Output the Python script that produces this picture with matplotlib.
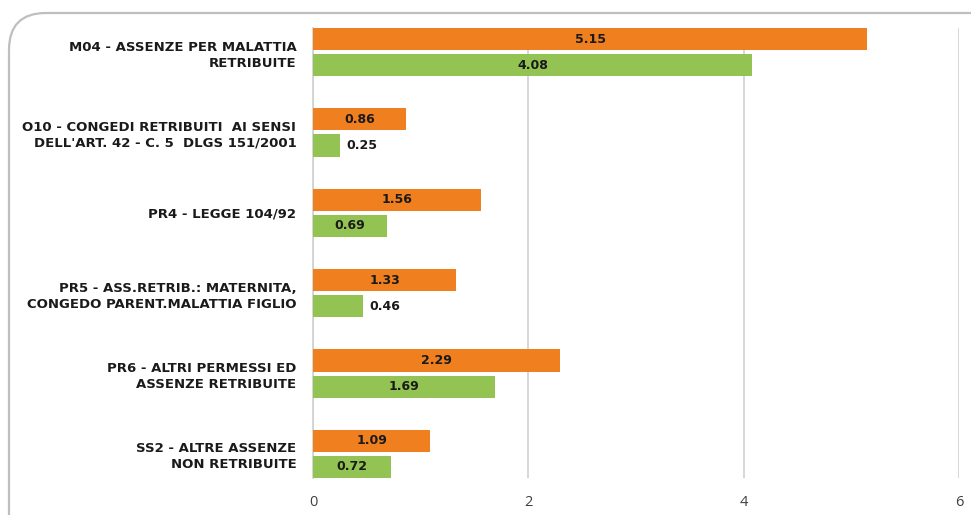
import matplotlib.pyplot as plt
import numpy as np
from matplotlib.patches import FancyBboxPatch

categories = [
    "M04 - ASSENZE PER MALATTIA\nRETRIBUITE",
    "O10 - CONGEDI RETRIBUITI  AI SENSI\nDELL'ART. 42 - C. 5  DLGS 151/2001",
    "PR4 - LEGGE 104/92",
    "PR5 - ASS.RETRIB.: MATERNITA,\nCONGEDO PARENT.MALATTIA FIGLIO",
    "PR6 - ALTRI PERMESSI ED\nASSENZE RETRIBUITE",
    "SS2 - ALTRE ASSENZE\nNON RETRIBUITE",
]
orange_vals = [5.15, 0.86, 1.56, 1.33, 2.29, 1.09]
green_vals = [4.08, 0.25, 0.69, 0.46, 1.69, 0.72]
xticks = [0, 2, 4, 6]

ORANGE = "#F07F1F"
GREEN = "#93C453"
LABEL_FONT = ['DejaVu Sans']

plt.rcParams['font.family'] = ['Open Sans', 'DejaVu Sans']

fig = plt.figure(figsize=(9.71, 5.15), dpi=100)
ax = fig.add_axes([313 / 971, 1 - 478 / 515, (959 - 313) / 971, 450 / 515])

# rounded border (only top-left corner visible)
border = FancyBboxPatch((9 / 971, -0.2), 1.2, 1 - 13 / 515 + 0.2,
                        boxstyle="round,pad=0,rounding_size=0.038",
                        transform=fig.transFigure, facecolor="none",
                        edgecolor="#BFBFBF", linewidth=1.6,
                        mutation_aspect=971 / 515)
fig.patches.append(border)

y = np.arange(len(categories))
h = 0.275
off = 0.1625
ax.barh(y - off, orange_vals, height=h, color=ORANGE, zorder=3)
ax.barh(y + off, green_vals, height=h, color=GREEN, zorder=3)

for yi, v in zip(y, orange_vals):
    ax.text(v / 2, yi - off, f"{v:.2f}", ha="center", va="center", family=LABEL_FONT,
            fontsize=9, fontweight="bold", color="#1a1a1a", zorder=4)
for yi, v in zip(y, green_vals):
    if v >= 0.6:
        ax.text(v / 2, yi + off, f"{v:.2f}", ha="center", va="center", family=LABEL_FONT,
                fontsize=9, fontweight="bold", color="#1a1a1a", zorder=4)
    else:
        ax.text(v + 0.06, yi + off, f"{v:.2f}", ha="left", va="center", family=LABEL_FONT,
                fontsize=9, fontweight="bold", color="#1a1a1a", zorder=4)

ax.set_xlim(0, 6)
ax.set_ylim(len(categories) - 1 + 0.3, -0.3)
ax.set_xticks(xticks)
ax.set_xticklabels([str(t) for t in xticks], fontsize=10.5, color="#404040")
ax.set_yticks(y)
ax.set_yticklabels(categories, fontsize=9.5, fontweight="bold", color="#1a1a1a",
                   linespacing=1.3, family=LABEL_FONT)
ax.tick_params(axis="both", length=0)
ax.tick_params(axis="y", pad=12)
ax.tick_params(axis="x", pad=12)
for t in ax.get_yticklabels():
    t.set_horizontalalignment("right")
    t.set_multialignment("right")

ax.grid(axis="x", color="#D0D0D0", linewidth=1.2, zorder=0)
for s in ["top", "right", "bottom"]:
    ax.spines[s].set_visible(False)
ax.spines["left"].set_color("#D0D0D0")
ax.spines["left"].set_linewidth(1.2)

fig.savefig("out.png", dpi=100)
